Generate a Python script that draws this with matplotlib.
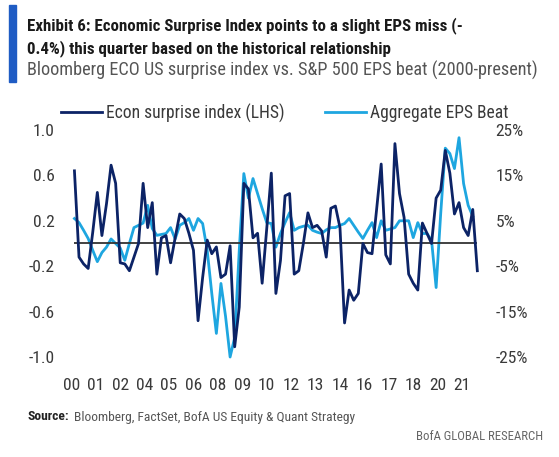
import matplotlib
matplotlib.use("Agg")
import matplotlib.pyplot as plt
from matplotlib.lines import Line2D
from matplotlib.patches import Rectangle
from matplotlib import font_manager
from matplotlib.font_manager import FontProperties
import pandas as pd

# ---------------- data ----------------
start_quarter = "2000Q1"
econ_surprise = [0.64, -0.12, -0.18, -0.22, 0.10, 0.45, 0.07, 0.35, 0.69, 0.53,
                 -0.17, -0.18, -0.24, -0.12, 0.00, 0.53, 0.14, 0.36, -0.27, 0.05,
                 0.07, -0.17, 0.05, 0.26, 0.22, 0.09, -0.06, -0.68, -0.30, 0.03,
                 -0.09, -0.03, -0.30, -0.27, -0.02, -0.91, -0.56, 0.53, 0.48, 0.05,
                 0.09, -0.35, 0.13, 0.62, -0.44, -0.15, 0.42, 0.44, -0.27, -0.24,
                 0.00, 0.27, 0.14, 0.16, 0.11, -0.12, 0.31, 0.33, 0.14, -0.70,
                 -0.41, -0.50, -0.44, 0.00, -0.08, -0.09, 0.30, 0.70, -0.10, -0.18,
                 0.88, 0.44, 0.23, -0.27, -0.35, -0.41, 0.18, 0.09, 0.00, 0.40,
                 0.47, 0.82, 0.62, 0.26, 0.36, 0.14, 0.07, 0.30, -0.24]
eps_beat = [5.5, 4.6, 2.9, 1.1, -1.5, -4.0, -2.0, -0.8, 1.0, 0.0,
            -1.0, -3.7, 0.0, 3.5, 4.0, 4.5, 8.4, 3.3, 1.8, 2.0,
            2.2, 3.5, 1.0, 4.0, 4.6, 5.5, 2.9, 5.5, 4.4, -1.5,
            -11.0, -19.8, -8.8, -16.0, -25.0, -20.7, -1.5, 15.4, 10.0, 14.3,
            11.0, 7.7, 4.6, 4.4, -0.8, 2.2, 4.6, 6.8, 2.9, 3.5,
            3.8, 4.0, 2.9, 2.5, 2.2, 3.0, 3.5, 3.5, 4.0, 4.4,
            5.5, 4.0, 2.5, 1.1, 2.9, 4.6, 1.3, 5.0, 2.9, 3.2,
            3.5, 5.0, 5.0, 5.0, 1.3, 4.6, 2.2, 2.2, 0.7, -9.7,
            6.6, 21.0, 19.8, 16.5, 23.3, 13.2, 8.4, 6.0]
tick_dates = ["2000-01", "2001-05", "2002-09", "2004-01", "2005-05", "2006-09",
              "2008-01", "2009-05", "2010-09", "2012-01", "2013-05", "2014-09",
              "2016-01", "2017-05", "2018-09", "2020-01", "2021-05"]
tick_labels = ["00", "01", "02", "04", "05", "06", "08", "09", "10", "12",
               "13", "14", "16", "17", "18", "20", "21"]
left_ticks = [-1.0, -0.6, -0.2, 0.2, 0.6, 1.0]
right_ticks = [-25, -15, -5, 5, 15, 25]

title_lines = ["Exhibit 6: Economic Surprise Index points to a slight EPS miss (-",
               "0.4%) this quarter based on the historical relationship"]
subtitle = "Bloomberg ECO US surprise index vs. S&P 500 EPS beat (2000-present)"
legend_labels = ["Econ surprise index (LHS)", "Aggregate EPS Beat"]
source_label = "Source:"
source_text = "Bloomberg, FactSet, BofA US Equity & Quant Strategy"
brand = "BofA GLOBAL RESEARCH"

# ---------------- helpers ----------------
def months_since_2000(periods):
    return [(p.year - 2000) * 12 + p.month - 1 for p in periods]

q_econ = pd.period_range(start_quarter, periods=len(econ_surprise), freq="Q").asfreq("M", "end")
q_eps = pd.period_range(start_quarter, periods=len(eps_beat), freq="Q").asfreq("M", "end")
x_econ = months_since_2000(q_econ)
x_eps = months_since_2000(q_eps)
x_ticks = months_since_2000(pd.PeriodIndex(tick_dates, freq="M"))

# ---------------- font choice: prefer a condensed sans ----------------
ttf = font_manager.fontManager.ttflist
names = {f.name for f in ttf}
FAM, STRETCH = "Liberation Sans", "normal"
picked = False
for n in ["Liberation Sans Narrow", "Roboto Condensed", "Open Sans Condensed",
          "Noto Sans Condensed", "DejaVu Sans Condensed"]:
    if n in names:
        FAM, STRETCH, picked = n, "normal", True
        break
if not picked:
    for fam in ["Roboto", "Noto Sans", "Open Sans", "DejaVu Sans"]:
        conds = [f for f in ttf if f.name == fam and str(f.stretch) in
                 ("condensed", "semi-condensed", "extra-condensed", "75", "87.5", "62.5")]
        if conds:
            FAM, STRETCH, picked = fam, conds[0].stretch, True
            break
plt.rcParams["font.family"] = [FAM, "DejaVu Sans"]
plt.rcParams["font.stretch"] = STRETCH

W, H = 559, 457
fig = plt.figure(figsize=(W / 100, H / 100), dpi=100)
fig.patch.set_facecolor("white")
renderer = fig.canvas.get_renderer()


def fx(px):
    return px / W


def fy(py):
    return 1 - py / H


def fit(text, target_px, max_size, weight="normal"):
    t = fig.text(0, 0, text, fontsize=10, fontweight=weight, fontstretch=STRETCH)
    w = t.get_window_extent(renderer).width
    t.remove()
    return min(max_size, 10 * target_px / w)


DARK = "#0c2366"
LIGHT = "#1ea6e0"
TXT = "#3a3a3a"

# axes geometry (pixels)
ax_left, ax_right, ax_top, ax_bot = 60, 490, 124.3, 362.7
ax2 = fig.add_axes([fx(ax_left), fy(ax_bot), (ax_right - ax_left) / W, (ax_bot - ax_top) / H])
ax = ax2.twinx()
ax.set_zorder(ax2.get_zorder() + 1)
ax.patch.set_visible(False)

ax.set_ylim(-1.05, 1.05)
ax2.set_ylim(-26.25, 26.25)
ax2.set_xlim(-7.46, 274.3)
ax.set_xlim(-7.46, 274.3)

ax.hlines(0, x_econ[0], x_econ[-1], color="#333333", lw=1.3, zorder=1)
ax2.plot(x_eps, eps_beat, color=LIGHT, lw=2.0, solid_joinstyle="round")
ax.plot(x_econ, econ_surprise, color=DARK, lw=2.0, solid_joinstyle="round", zorder=3)

for a in (ax, ax2):
    for s in a.spines.values():
        s.set_visible(False)

tick_size = fit("-0.2", 26, 13)

ax.yaxis.tick_left()
ax.set_yticks(left_ticks)
ax.set_yticklabels([f"{v:.1f}" for v in left_ticks])
ax.tick_params(axis="y", length=0, pad=4, labelsize=tick_size, labelcolor=TXT)

ax2.yaxis.tick_right()
ax2.set_yticks(right_ticks)
ax2.set_yticklabels([f"{v}%" for v in right_ticks])
ax2.tick_params(axis="y", length=0, pad=4, labelsize=tick_size, labelcolor=TXT)

ax2.set_xticks(x_ticks)
ax2.set_xticklabels(tick_labels)
ax2.tick_params(axis="x", length=0, pad=11, labelsize=tick_size, labelcolor=TXT)
ax.tick_params(axis="x", bottom=False, labelbottom=False)

# legend
leg_size = fit(legend_labels[0], 178, 13)
handles = [Line2D([], [], color=DARK, lw=2.0), Line2D([], [], color=LIGHT, lw=2.0)]
leg = fig.legend(handles, legend_labels, loc="center left", bbox_to_anchor=(fx(61), fy(113)),
                 ncol=2, frameon=False, fontsize=leg_size, handlelength=41 * 72 / 100 / leg_size,
                 handletextpad=4 * 72 / 100 / leg_size, columnspacing=40 * 72 / 100 / leg_size,
                 borderpad=0, borderaxespad=0, labelcolor=TXT)

# header
fig.patches.append(Rectangle((fx(9), fy(82)), fx(16) - fx(9), (82 - 5) / H,
                             transform=fig.transFigure, color="#1f5cc4", zorder=5))
title_size = fit(title_lines[0], 435, 13.5, "bold")
fig.text(fx(27), fy(30), title_lines[0], fontsize=title_size, fontweight="bold", color="#1a1a1a", va="baseline")
fig.text(fx(27), fy(53), title_lines[1], fontsize=title_size, fontweight="bold", color="#1a1a1a", va="baseline")
sub_size = fit(subtitle, 510, 13.5)
fig.text(fx(27), fy(76), subtitle, fontsize=sub_size, color="#555555", va="baseline")

# footer
src_size = fit(source_label + "  " + source_text, 326, 10)
t = fig.text(fx(27), fy(417), source_label, fontsize=src_size, fontweight="bold", color="#222222", va="center")
bb = t.get_window_extent(renderer)
fig.text((bb.x1 + 5) / W, fy(417), source_text, fontsize=src_size, color="#555555", va="center")
brand_size = fit(brand, 128, 10)
fig.text(fx(543), fy(437), brand, fontsize=brand_size, color="#666666", va="center", ha="right")

fig.savefig("out.png", dpi=100, facecolor="white")
